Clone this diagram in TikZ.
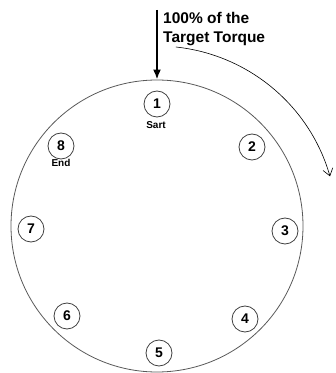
\documentclass[tikz,border=0pt]{standalone}
\usepackage{fontspec}
\setmainfont{Liberation Sans}
\usetikzlibrary{arrows.meta}
\tikzset{
  bolt/.style={circle, draw=black!75, line width=0.8pt, minimum size=26pt, inner sep=0pt,
    font=\bfseries\fontsize{14}{14}\selectfont},
  tag/.style={font=\bfseries\fontsize{10}{10}\selectfont}
}
\begin{document}
\begin{tikzpicture}[x=1pt,y=1pt]
\useasboundingbox (0,0) rectangle (336,373);
% flange
\node[circle, draw=black!65, line width=0.8pt, minimum size=292pt, inner sep=0pt] (flange) at (157,147) {};
% bolts
\node[bolt] (b1) at (157,269) {1};
\node[bolt] (b2) at (252,226) {2};
\node[bolt] (b3) at (285,142) {3};
\node[bolt] (b4) at (245,54) {4};
\node[bolt] (b5) at (159,20) {5};
\node[bolt] (b6) at (67,57) {6};
\node[bolt] (b7) at (31,144) {7};
\node[bolt] (b8) at (61,227) {8};
\node[tag] (sart) at (156,248) {Sart};
\node[tag] (end) at (61,210) {End};
% load
\coordinate (load) at (157,363);
\draw[line width=2.2pt, -{Latex[length=10pt,width=8pt]}] (load) -- (flange.north);
\node[anchor=north west, align=left, inner sep=0pt, font=\bfseries\fontsize{15.5}{19}\selectfont] (torque) at (163,361) {100\% of the\\Target Torque};
% direction
\coordinate (sweep) at (175.8,326);
\draw[line width=0.6pt, -{Straight Barb[length=7pt,width=10pt]}] (sweep) arc[start angle=84, end angle=16, radius=180pt];
\end{tikzpicture}
\end{document}
